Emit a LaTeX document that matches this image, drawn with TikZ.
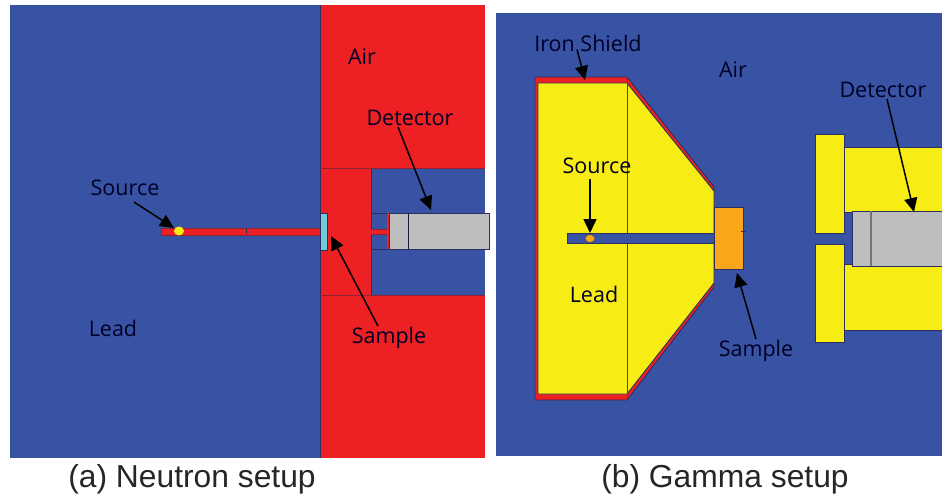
\documentclass[tikz,border=0pt]{standalone}
\usepackage{fontspec}
\setmainfont{Open Sans}
\newfontfamily\capfont{Liberation Sans}
\usetikzlibrary{arrows.meta}
\definecolor{airblue}{HTML}{3953A4}
\definecolor{airred}{HTML}{ED2024}
\definecolor{leadyellow}{HTML}{F7EC13}
\definecolor{sampleorange}{HTML}{FAA61A}
\definecolor{samplecyan}{HTML}{6DCDD8}
\definecolor{detgrey}{HTML}{BEBEBE}
\definecolor{edgeblue}{HTML}{2B2F62}
\definecolor{edgered}{HTML}{8E2236}
\tikzset{
  part/.style={draw=edgeblue,line width=0.9pt},
  redpart/.style={draw=edgered,line width=0.9pt},
  label text/.style={font=\fontsize{21.5pt}{24pt}\selectfont,text=black!85!blue,inner sep=1pt},
  caption text/.style={font=\capfont\fontsize{31.8pt}{34pt}\selectfont,text=black!85,inner sep=0pt},
  pointer/.style={-{Triangle[length=14pt,width=13pt]},line width=1.5pt,black}
}
\begin{document}
\begin{tikzpicture}[x=1pt,y=-1pt]
\useasboundingbox (0,0) rectangle (942,498);
% (a) neutron setup
\fill[airblue] (10,5) rectangle (485,458);
\fill[airred] (320,5) rectangle (485,458);
\draw[edgeblue,line width=0.9pt] (320,5) -- (320,458);
\fill[airblue] (371,168) rectangle (485,295);
\draw[edgeblue] (371,168) -- (371,295);
\draw[redpart] (320,168) -- (485,168) (320,295) -- (485,295);
\draw[redpart,fill=airred] (161,228) rectangle (320,235);
\draw[edgeblue,line width=0.6pt] (246,229) -- (246,234);
\draw[part,fill=airblue] (371,213) rectangle (389,249);
\fill[airred] (371,229) rectangle (389,234);
\draw[redpart,line width=0.6pt] (371,229) -- (387,229) (371,234) -- (387,234);
\fill[airred] (387,213) rectangle (389,249);
\draw[part,fill=detgrey] (389,213) rectangle (489,249);
\draw[edgeblue!60!black,line width=0.9pt] (408,213) -- (408,249);
\draw[part,fill=samplecyan] (320,213) rectangle (327,250);
\fill[leadyellow] (179,231) ellipse (5 and 4.5);
% (b) gamma setup
\fill[airblue] (496,13) rectangle (942,456);
\draw[part,fill=airred] (535,77) -- (627,77) -- (714,187) -- (714,287) -- (627,400) -- (535,400) -- cycle;
\draw[part,fill=leadyellow] (538,83) -- (627,83) -- (714,191) -- (714,283) -- (627,394) -- (538,394) -- cycle;
\draw[edgeblue!50!black!80,line width=0.8pt] (627,77) -- (627,400);
\draw[part,fill=airblue] (714,233) -- (567,233) -- (567,243) -- (714,243);
\fill[sampleorange,draw=edgeblue,line width=0.4pt] (590,238.5) ellipse (5 and 4);
\draw[part,fill=sampleorange] (714,207) rectangle (743,269);
\draw[edgeblue,line width=0.5pt] (741,231) -- (746,231) (743.5,229) -- (743.5,233);
\draw[part,fill=leadyellow] (942,147) -- (844,147) -- (844,330) -- (942,330);
\fill[airblue] (844,212) rectangle (852,264);
\draw[part] (844,212) -- (852,212) (844,264) -- (852,264);
\draw[part,fill=leadyellow] (815,134) rectangle (844,233);
\draw[part,fill=leadyellow] (815,244) rectangle (844,342);
\draw[part,fill=detgrey] (942,211) -- (852,211) -- (852,266) -- (942,266);
\draw[black!55,line width=1.2pt] (871,211) -- (871,266);
% labels
\node[label text] (air1) at (362,57) {Air};
\node[label text] (detector1) at (410,118) {Detector};
\node[label text] (source1) at (125,188) {Source};
\node[label text] (lead1) at (113,328) {Lead};
\node[label text] (sample1) at (389,338) {Sample};
\node[label text] (shield2) at (588,43) {Iron Shield};
\node[label text] (air2) at (733,70) {Air};
\node[label text] (source2) at (597,166) {Source};
\node[label text] (lead2) at (594,294) {Lead};
\node[label text] (sample2) at (756,351) {Sample};
\node[label text] (detector2) at (883,90) {Detector};
\node[caption text] (capa) at (192,479) {(a) Neutron setup};
\node[caption text] (capb) at (725,479) {(b) Gamma setup};
% arrow tips
\coordinate (tipsource1) at (174,228);
\coordinate (tipdetector1) at (431,210);
\coordinate (tipsample1) at (331,236);
\coordinate (tipshield2) at (585,80);
\coordinate (tipsource2) at (590,233);
\coordinate (tipsample2) at (737,273);
\coordinate (tipdetector2) at (914,212);
\draw[pointer] (134,202) -- (tipsource1);
\draw[pointer] (detector1.south) ++(-12,0) -- (tipdetector1);
\draw[pointer] (sample1.north) ++(-11,0) -- (tipsample1);
\draw[pointer] (shield2.south) ++(-11,-3) -- (tipshield2);
\draw[pointer] (590,179) -- (tipsource2);
\draw[pointer] (sample2.north) -- (tipsample2);
\draw[pointer] (detector2.south) ++(4,0) -- (tipdetector2);
\end{tikzpicture}
\end{document}
